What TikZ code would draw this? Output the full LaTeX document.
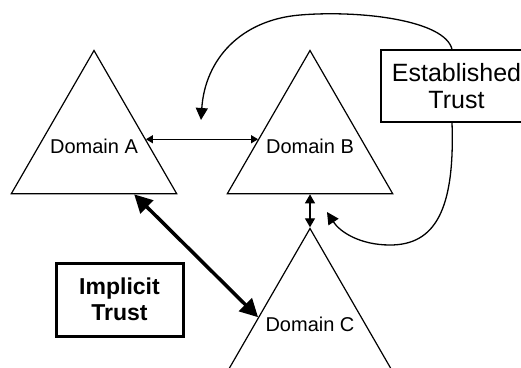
\documentclass[tikz,border=0pt]{standalone}
\usepackage{fontspec}
\setmainfont{Liberation Sans}
\usetikzlibrary{shapes.geometric,positioning,arrows.meta,calc}

\begin{document}
\begin{tikzpicture}[
    x=1pt, y=-1pt,
    >={Triangle[black, length=7pt, width=8pt]},
    domainnode/.style={
        regular polygon, regular polygon sides=3, draw=black, line width=1.2pt,
        minimum size=191pt, inner sep=0pt
      },
    domaintext/.style={inner sep=0pt, font=\fontsize{20}{24}\selectfont},
    trustbox/.style={draw=black, align=center, inner sep=0pt},
    link/.style={<->, line width=1.3pt},
    curvy/.style={->, line width=1.3pt, >={Triangle[black, length=12pt, width=12pt]}},
  ]
  \clip (0,0) rectangle (521,367);
  \node[domainnode] (domA) at (94,146) {};
  \node[domainnode] (domB) at (310,146) {};
  \node[domainnode] (domC) at (310,324) {};
  \node[domaintext] (textA) at (domA.center) {Domain A};
  \node[domaintext] (textB) at (domB.center) {Domain B};
  \node[domaintext] (textC) at (domC.center) {Domain C};
  \node[trustbox, line width=1.3pt, minimum width=151pt, minimum height=72pt,
    font=\fontsize{25}{27}\selectfont] (estab) at (456.5,86) {Established\\Trust};
  \node[trustbox, line width=3pt, minimum width=127pt, minimum height=73pt,
    font=\bfseries\fontsize{23}{26.5}\selectfont] (implicit) at (119.5,299.5) {Implicit\\Trust};
  \coordinate (esttop) at ($(estab.north)+(-4.5,0)$);
  \coordinate (estbot) at ($(estab.south)+(-4.5,0)$);
  \coordinate (upperend) at (201,120);
  \coordinate (lowerend) at (327,212);
  % trust links between the domains
  \draw[link] ($(domA.corner 1)!0.62!(domA.corner 3)$) -- ($(domB.corner 1)!0.62!(domB.corner 2)$);
  \draw[link, >={Triangle[black, length=9pt, width=10pt]}] (domB.side 2) -- (domC.corner 1);
  \draw[link, line width=3.5pt, >={Triangle[black, length=18pt, width=18pt]}]
    ($(domA.corner 2)!0.74!(domA.corner 3)$) -- ($(domC.corner 1)!0.62!(domC.corner 2)$);
  % established trust pointers
  \draw[curvy] (esttop) .. controls (445,20) and (360,10) .. (300,15)
    .. controls (240,20) and (205,60) .. (upperend);
  \draw[curvy] (estbot) .. controls (455,210) and (435,245) .. (390,245)
    .. controls (360,245) and (340,232) .. (lowerend);
\end{tikzpicture}
\end{document}
